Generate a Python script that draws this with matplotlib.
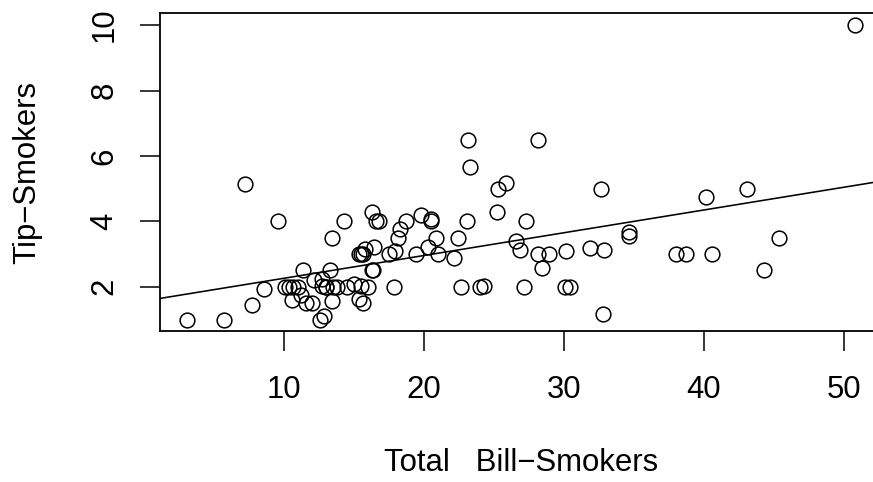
import numpy as np
import matplotlib
matplotlib.use("Agg")
import matplotlib.pyplot as plt

# Tips dataset, smokers only
total_bill = [38.01, 11.24, 20.29, 13.81, 11.02, 18.29, 3.07, 15.01, 26.86, 25.28,
              17.92, 19.44, 32.68, 28.97, 5.75, 16.32, 40.17, 27.28, 12.03, 21.01,
              11.35, 15.38, 44.30, 22.42, 15.36, 20.49, 25.21, 14.31, 16.00, 17.51,
              10.59, 10.63, 50.81, 15.81, 7.25, 31.85, 16.82, 32.90, 17.89, 14.48,
              9.60, 34.63, 34.65, 23.33, 45.35, 23.17, 40.55, 20.90, 30.46, 18.15,
              23.10, 15.69, 19.81, 28.44, 15.48, 16.58, 10.34, 43.11, 13.00, 13.51,
              18.71, 12.74, 13.00, 16.40, 20.53, 16.47, 26.59, 38.73, 24.27, 12.76,
              30.06, 25.89, 13.27, 28.17, 12.90, 28.15, 11.59, 7.74, 30.14, 12.16,
              13.42, 8.58, 13.42, 16.27, 10.09, 22.12, 24.01, 15.69, 15.53, 12.60,
              32.83, 27.18, 22.67]
tip = [3.00, 1.76, 3.21, 2.00, 1.98, 3.76, 1.00, 2.09, 3.14, 5.00,
       3.08, 3.00, 5.00, 3.00, 1.00, 4.30, 4.73, 4.00, 1.50, 3.00,
       2.50, 3.00, 2.50, 3.48, 1.64, 4.06, 4.29, 4.00, 2.00, 3.00,
       1.61, 2.00, 10.00, 3.16, 5.15, 3.18, 4.00, 3.11, 2.00, 2.00,
       4.00, 3.55, 3.68, 5.65, 3.50, 6.50, 3.00, 3.50, 2.00, 3.50,
       4.00, 1.50, 4.19, 2.56, 2.02, 4.00, 2.00, 5.00, 2.00, 2.00,
       4.00, 2.01, 2.00, 2.50, 4.00, 3.23, 3.41, 3.00, 2.03, 2.23,
       2.00, 5.16, 2.50, 6.50, 1.10, 3.00, 1.50, 1.44, 3.09, 2.20,
       3.48, 1.92, 1.58, 2.50, 2.00, 2.88, 2.00, 3.00, 3.00, 1.00,
       1.17, 2.00, 2.00]
x_ticks = [10, 20, 30, 40, 50]
y_ticks = [2, 4, 6, 8, 10]
x_label = "Total   Bill\u2212Smokers"
y_label = "Tip\u2212Smokers"

plt.rcParams['font.family'] = ['Liberation Sans', 'DejaVu Sans']

W, H = 873, 482
fig = plt.figure(figsize=(W / 100, H / 100), dpi=100)
left_px, right_px, top_px, bot_px = 160, 882, 13.3, 331.3
ax = fig.add_axes([left_px / W, (H - bot_px) / H,
                   (right_px - left_px) / W, (bot_px - top_px) / H])

x = np.array(total_bill)
y = np.array(tip)
ax.plot(x, y, linestyle='none', marker='o', markersize=10.6,
        markerfacecolor='none', markeredgecolor='black', markeredgewidth=1.1)

slope, intercept = np.polyfit(x, y, 1)
ax.axline((0, intercept), slope=slope, color='black', linewidth=1.15)

xr = x.max() - x.min()
yr = y.max() - y.min()
ax.set_xlim(x.min() - 0.04 * xr, x.max() + 0.04 * xr)
ax.set_ylim(y.min() - 0.04 * yr, y.max() + 0.04 * yr)

for s in ax.spines.values():
    s.set_linewidth(1.3)

fs = 22.4
ax.set_xticks(x_ticks)
ax.set_xticklabels([str(v) for v in x_ticks], fontsize=fs)
ax.set_yticks(y_ticks)
ax.set_yticklabels([str(v) for v in y_ticks], fontsize=fs, rotation=90)
ax.tick_params(axis='both', direction='out', length=14.4, width=1.1)
ax.tick_params(axis='x', pad=28)
ax.tick_params(axis='y', pad=25.5)
for lab in ax.get_xticklabels():
    lab.set_va('center')
for lab in ax.get_yticklabels():
    lab.set_ha('center')
    lab.set_va('center')

axw = right_px - left_px
axh = bot_px - top_px
ax.set_xlabel(x_label, fontsize=fs)
ax.xaxis.set_label_coords(((left_px + 882) / 2 - left_px) / axw, (bot_px - 463) / axh)
ax.xaxis.label.set_va('center')
ax.set_ylabel(y_label, fontsize=fs)
ax.yaxis.set_label_coords((27 - left_px) / axw, (bot_px - 172) / axh)
ax.yaxis.label.set_va('center')

fig.savefig("out.png", dpi=100)
